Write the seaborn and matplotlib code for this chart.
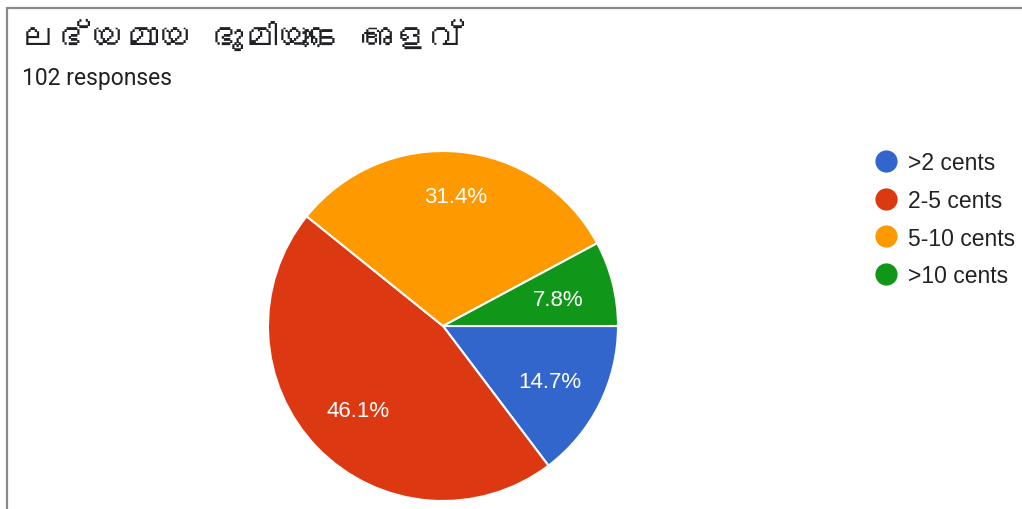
import matplotlib
matplotlib.use("Agg")
import matplotlib.pyplot as plt
from matplotlib import font_manager
from matplotlib.ft2font import FT2Font
from matplotlib.lines import Line2D
import seaborn as sns

title = "ലഭ്യമായ ഭൂമിയുടെ അളവ്"
subtitle = "102 responses"
categories = [">2 cents", "2-5 cents", "5-10 cents", ">10 cents"]
counts = [15, 47, 32, 8]
colors = ["#3366cc", "#dc3912", "#ff9900", "#109618"]

sns.set_theme(style="white")

# find an installed family that can draw Malayalam script
mal_family = None
for fe in font_manager.fontManager.ttflist:
    try:
        if 0x0D32 in FT2Font(fe.fname).get_charmap():
            mal_family = fe.name
            break
    except Exception:
        pass

plt.rcParams["font.family"] = ["Liberation Sans", "DejaVu Sans"]
title_family = ([mal_family] if mal_family else []) + ["Roboto", "DejaVu Sans"]

W, H = 1022, 510
fig = plt.figure(figsize=(W / 100, H / 100), dpi=100)
fig.patch.set_facecolor("white")

# card frame
frame_c = "#8a8a8a"
fig.add_artist(Line2D([7 / W, 1.0], [1 - 9 / H, 1 - 9 / H], transform=fig.transFigure, color=frame_c, lw=1.6))
fig.add_artist(Line2D([7 / W, 7 / W], [1 - 9 / H, 0], transform=fig.transFigure, color=frame_c, lw=1.6))

fig.text(22 / W, 1 - 37 / H, title, family=title_family, fontsize=24.5, color="#202124", va="center", ha="left")
fig.text(22 / W, 1 - 79 / H, subtitle, family=["Roboto", "DejaVu Sans"], fontsize=16.5,
         color="#202124", va="center", ha="left")

cx, cy, r = 443, 327, 175
ax = fig.add_axes([(cx - r) / W, 1 - (cy + r) / H, 2 * r / W, 2 * r / H])
wedges, texts, autotexts = ax.pie(
    counts, colors=colors, startangle=0, counterclock=False,
    autopct=lambda p: f"{p:.1f}%", pctdistance=0.68,
    wedgeprops=dict(edgecolor="white", linewidth=1.5),
    textprops=dict(color="white", fontsize=16),
)
# the large top slice carries its label a little further out
autotexts[2].set_position(tuple(v * 0.755 / 0.68 for v in autotexts[2].get_position()))
# nudge labels onto the visual centre of the glyphs
for t in autotexts:
    x, y = t.get_position()
    t.set_position((x, y - 0.012))
ax.set_xlim(-1, 1)
ax.set_ylim(-1, 1)
ax.set_aspect("equal")
ax.axis("off")

# legend with round markers
lx, ly0, dy = 886, 162, 37.5
for i, (lab, col) in enumerate(zip(categories, colors)):
    y = ly0 + i * dy
    fig.add_artist(Line2D([lx / W], [1 - y / H], transform=fig.transFigure, marker="o",
                          markersize=16, color=col, markeredgewidth=0, linestyle="none"))
    fig.text(908 / W, 1 - (y + 2) / H, lab, fontsize=16.5, color="#222222", ha="left", va="center")

fig.savefig("out.png", dpi=100, facecolor="white")
